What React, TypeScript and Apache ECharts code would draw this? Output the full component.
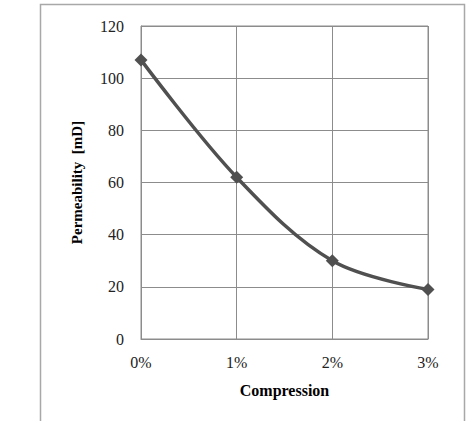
import React, { useEffect, useRef } from "react";
import * as echarts from "echarts";

const categories = ["0%", "1%", "2%", "3%"];
const permeability = [107, 62, 30, 19];
const yTicks = { min: 0, max: 120, interval: 20 };

export default function App() {
  const ref = useRef<HTMLDivElement>(null);
  useEffect(() => {
    if (!ref.current) return;
    const chart = echarts.init(ref.current, null, { renderer: "svg" });
    const font = "Liberation Serif";
    chart.setOption({
      animation: false,
      backgroundColor: "#ffffff",
      textStyle: { fontFamily: font },
      grid: {
        left: 141,
        top: 26,
        width: 287,
        height: 313,
        show: true,
        borderColor: "#8c8c8c",
        borderWidth: 1,
      },
      graphic: [
        {
          type: "rect",
          shape: { x: 40.5, y: 4.5, width: 424, height: 430 },
          style: { fill: "none", stroke: "#a8a8a8", lineWidth: 1.5 },
          silent: true,
        },
      ],
      xAxis: {
        type: "category",
        data: categories,
        boundaryGap: false,
        name: "Compression",
        nameLocation: "middle",
        nameGap: 43,
        nameTextStyle: { fontFamily: font, fontSize: 16, fontWeight: "bold", color: "#000" },
        axisLine: { show: true, lineStyle: { color: "#8c8c8c" } },
        axisTick: { show: false },
        axisLabel: { fontFamily: font, fontSize: 16, color: "#222", margin: 15 },
        splitLine: { show: true, lineStyle: { color: "#8c8c8c", width: 1 } },
      },
      yAxis: {
        type: "value",
        min: yTicks.min,
        max: yTicks.max,
        interval: yTicks.interval,
        name: "Permeability  [mD]",
        nameLocation: "middle",
        nameGap: 57,
        nameTextStyle: { fontFamily: font, fontSize: 15, fontWeight: "bold", color: "#000" },
        axisLine: { show: true, lineStyle: { color: "#8c8c8c" } },
        axisTick: { show: false },
        axisLabel: { fontFamily: font, fontSize: 16, color: "#222", margin: 17 },
        splitLine: { show: true, lineStyle: { color: "#8c8c8c", width: 1 } },
      },
      series: [
        {
          type: "line",
          data: permeability,
          smooth: 0.35,
          symbol: "diamond",
          symbolSize: 13,
          lineStyle: { color: "#505050", width: 3.5 },
          itemStyle: { color: "#505050" },
        },
      ],
    });
    return () => chart.dispose();
  }, []);
  return (
    <div
      ref={ref}
      style={{ position: "fixed", left: 0, top: 0, width: 475, height: 421 }}
    />
  );
}
